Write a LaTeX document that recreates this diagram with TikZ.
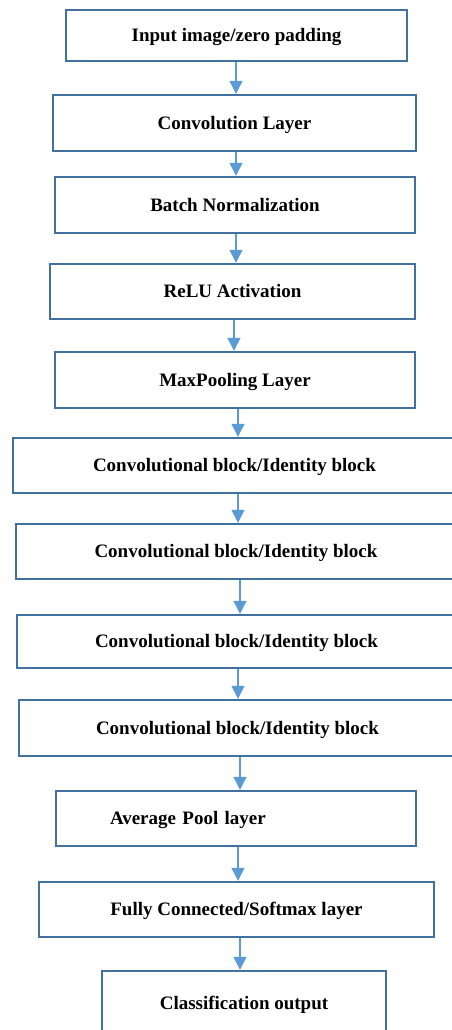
\documentclass[tikz,border=0pt]{standalone}
\usepackage{fontspec}
\setmainfont{Liberation Serif}
\usetikzlibrary{arrows.meta}
\definecolor{boxline}{HTML}{41719C}
\definecolor{arrowblue}{HTML}{5B9BD5}
\begin{document}
\begin{tikzpicture}[x=1pt,y=-1pt,
  stage/.style={draw=boxline, line width=2.4pt, rectangle, inner sep=0pt,
    font=\fontsize{19}{21}\selectfont\bfseries, text=black,
    text height=12.5pt, text depth=0pt},
  flow/.style={draw=arrowblue, line width=1.3pt,
    -{Triangle[length=13pt,width=13pt]}, arrowblue}]
\useasboundingbox (0,0) rectangle (451,1030);

% pipeline stages
\node[stage, minimum width=341pt, minimum height=51pt] (b1) at (236.5,35.5) {Input image/zero padding};
\node[stage, minimum width=363pt, minimum height=56pt] (b2) at (234.5,123) {Convolution Layer};
\node[stage, minimum width=360pt, minimum height=56pt] (b3) at (235,205) {Batch Normalization};
\node[stage, minimum width=365pt, minimum height=55pt] (b4) at (232.5,291.5) {ReLU Activation};
\node[stage, minimum width=360pt, minimum height=56pt] (b5) at (235,380) {MaxPooling Layer};
\node[stage, minimum width=443pt, minimum height=55pt] (b6) at (234.5,465.5) {Convolutional block/Identity block};
\node[stage, minimum width=440pt, minimum height=55pt] (b7) at (236,551.5) {Convolutional block/Identity block};
\node[stage, minimum width=439pt, minimum height=53pt] (b8) at (236.5,641.5) {Convolutional block/Identity block};
\node[stage, minimum width=437pt, minimum height=56pt] (b9) at (237.5,728) {Convolutional block/Identity block};
\node[stage, minimum width=360pt, minimum height=55pt, inner xsep=54pt,
      text width=252pt, align=left] (b10) at (236,818.5) {Average Pool layer};
\node[stage, minimum width=395pt, minimum height=55pt] (b11) at (236.5,909.5) {Fully Connected/Softmax layer};
\node[stage, minimum width=284pt, minimum height=65pt] (b12) at (244,1003.5) {Classification output};

% vertical guides for the connectors
\coordinate (g1) at (236,0);
\coordinate (g2) at (236,0);
\coordinate (g3) at (236,0);
\coordinate (g4) at (234,0);
\coordinate (g5) at (238,0);
\coordinate (g6) at (238,0);
\coordinate (g7) at (240,0);
\coordinate (g8) at (238,0);
\coordinate (g9) at (240,0);
\coordinate (g10) at (238,0);
\coordinate (g11) at (240,0);

% connectors
\foreach \a/\b in {1/2,2/3,3/4,4/5,5/6,6/7,7/8,8/9,9/10,10/11,11/12}
  \draw[flow] (b\a.south -| g\a) -- (b\b.north -| g\a);
\end{tikzpicture}
\end{document}
